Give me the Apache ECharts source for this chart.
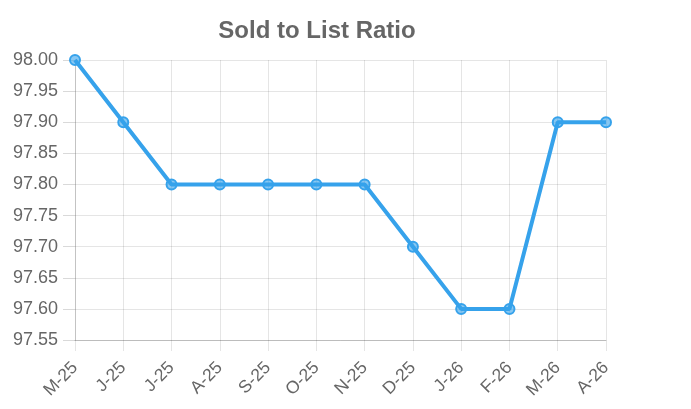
<!DOCTYPE html>
<html><head><meta charset="utf-8">
<script src="https://cdn.jsdelivr.net/npm/echarts@6/dist/echarts.min.js"></script>
<style>html,body{margin:0;padding:0;background:#fff}#c{width:691px;height:409px}</style>
</head><body><div id="c"></div>
<script>
const categories = ['M-25','J-25','J-25','A-25','S-25','O-25','N-25','D-25','J-26','F-26','M-26','A-26'];
const ratioValues = [98.00, 97.90, 97.80, 97.80, 97.80, 97.80, 97.80, 97.70, 97.60, 97.60, 97.90, 97.90];
const yMin = 97.55, yMax = 98.00, yStep = 0.05;
const FONT = "'Liberation Sans', Arial, Helvetica, sans-serif";
const chart = echarts.init(document.getElementById('c'));
chart.setOption({
  animation: false,
  title: {text: 'Sold to List Ratio', left: 312, textAlign: 'center', top: 14,
    textStyle: {fontFamily: FONT, fontSize: 24, fontWeight: 'bold', color: '#666'}},
  grid: {left: 75, right: 85, top: 60, bottom: 69},
  xAxis: {type: 'category', data: categories, boundaryGap: false,
    axisLine: {show: true, lineStyle: {color: 'rgba(0,0,0,0.18)'}},
    axisTick: {show: true, alignWithLabel: true, length: 11, lineStyle: {color: 'rgba(0,0,0,0.1)'}},
    splitLine: {show: true, lineStyle: {color: 'rgba(0,0,0,0.1)'}},
    axisLabel: {rotate: 45, margin: 25, color: '#666', fontFamily: FONT, fontSize: 17.5, interval: 0}},
  yAxis: {type: 'value', min: yMin, max: yMax, interval: yStep,
    axisLine: {show: true, lineStyle: {color: 'rgba(0,0,0,0.15)'}},
    axisTick: {show: true, length: 12, lineStyle: {color: 'rgba(0,0,0,0.15)'}},
    splitLine: {show: true, lineStyle: {color: 'rgba(0,0,0,0.1)'}},
    axisLabel: {margin: 17, color: '#666', fontFamily: FONT, fontSize: 18,
      formatter: v => v.toFixed(2)}},
  series: [{type: 'line', data: ratioValues, symbol: 'circle', symbolSize: 10,
    lineStyle: {color: '#36A2EB', width: 4},
    itemStyle: {color: 'rgba(54,162,235,0.6)', borderColor: '#36A2EB', borderWidth: 2}}]
});
</script></body></html>
